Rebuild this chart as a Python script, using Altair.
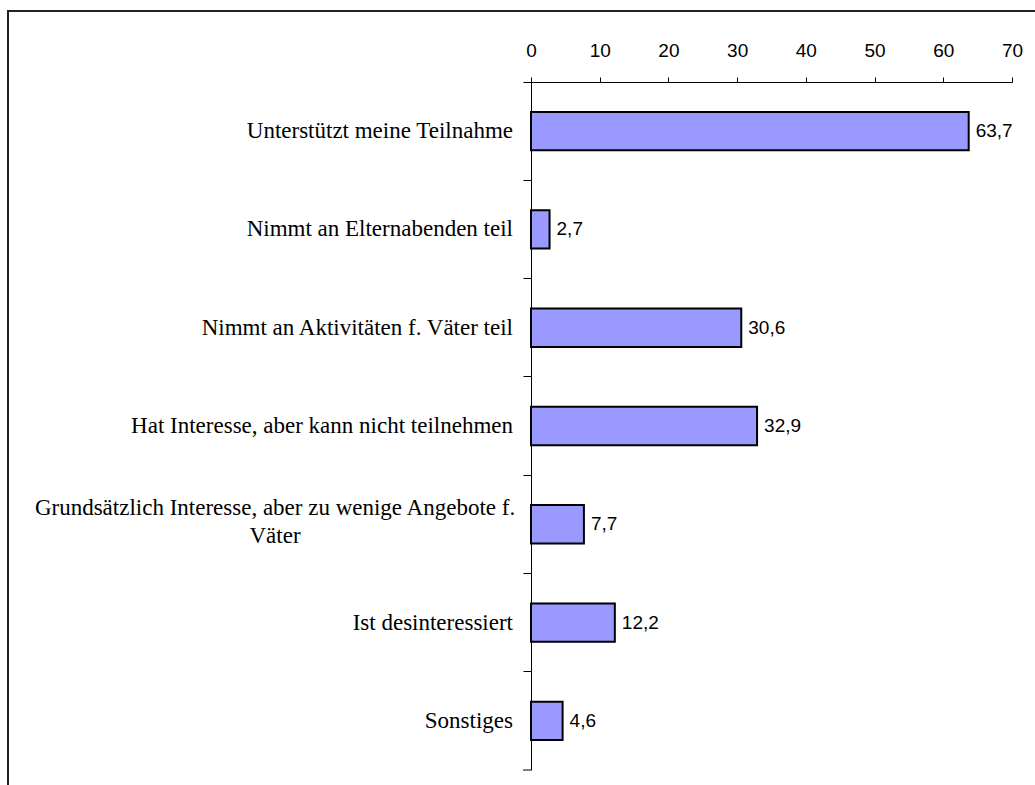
import altair as alt
import pandas as pd

categories = [
    "Unterstützt meine Teilnahme",
    "Nimmt an Elternabenden teil",
    "Nimmt an Aktivitäten f. Väter teil",
    "Hat Interesse, aber kann nicht teilnehmen",
    "Grundsätzlich Interesse, aber zu wenige Angebote f. Väter",
    "Ist desinteressiert",
    "Sonstiges",
]
display_labels = [
    "Unterstützt meine Teilnahme",
    "Nimmt an Elternabenden teil",
    "Nimmt an Aktivitäten f. Väter teil",
    "Hat Interesse, aber kann nicht teilnehmen",
    "Grundsätzlich Interesse, aber zu wenige Angebote f.\nVäter",
    "Ist desinteressiert",
    "Sonstiges",
]
values = [63.7, 2.7, 30.6, 32.9, 7.7, 12.2, 4.6]
x_ticks = [0, 10, 20, 30, 40, 50, 60, 70]

df = pd.DataFrame({
    "category": categories,
    "label": display_labels,
    "value": values,
    "multi": ["\n" in s for s in display_labels],
    "value_text": [f"{v:.1f}".replace(".", ",") for v in values],
})

W, H = 481, 688

y_enc = alt.Y(
    "category:N",
    sort=categories,
    scale=alt.Scale(paddingInner=0, paddingOuter=0),
    axis=alt.Axis(labels=False, title=None, bandPosition=0, tickSize=8,
                  domainColor="black", tickColor="black", grid=False),
)
x_scale = alt.Scale(domain=[0, 70], nice=False, zero=True)
x_axis = alt.Axis(orient="top", values=x_ticks, title=None, tickSize=5,
                  labelFont="Liberation Sans", labelFontSize=19, labelColor="black",
                  labelPadding=17, grid=False, domainColor="black", tickColor="black",
                  labelFlush=False)

base = alt.Chart(df)

bars = base.mark_bar(color="#9999FF", stroke="black", strokeWidth=2,
                     height=alt.RelativeBandSize(0.39)).encode(
    x=alt.X("value:Q", scale=x_scale, axis=x_axis),
    y=y_enc,
)

vals = base.mark_text(align="left", baseline="middle", dx=7,
                      font="Liberation Sans", fontSize=19, color="black").encode(
    x=alt.X("value:Q", scale=x_scale),
    y=y_enc,
    text="value_text:N",
)

cat_single = base.transform_filter("!datum.multi").mark_text(
    align="right", baseline="middle", font="Liberation Serif", fontSize=23, color="black"
).encode(y=y_enc, x=alt.value(-18), text="label:N")

cat_multi = base.transform_filter("datum.multi").mark_text(
    align="center", baseline="middle", font="Liberation Serif", fontSize=23, color="black",
    lineBreak="\n", lineHeight=28, dy=-16
).encode(y=y_enc, x=alt.value(-256), text="label:N")

one = alt.Chart(pd.DataFrame({"a": [0]}))
bottom_tick = one.mark_rule(color="black", strokeWidth=1).encode(
    x=alt.value(-8), x2=alt.value(0), y=alt.value(H))
frame_left = one.mark_rule(color="#222222", strokeWidth=2).encode(
    x=alt.value(-523), y=alt.value(-71), y2=alt.value(H + 40))
frame_top = one.mark_rule(color="#222222", strokeWidth=2).encode(
    x=alt.value(-524), x2=alt.value(W + 60), y=alt.value(-71))

chart = alt.layer(bars, vals, cat_single, cat_multi, bottom_tick, frame_left, frame_top).properties(
    width=W, height=H,
    background="white",
    autosize=alt.AutoSizeParams(type="none"),
    padding={"left": 531, "top": 82, "right": 23, "bottom": 15},
).configure_view(strokeWidth=0, stroke="transparent")

chart.save("out.html", embed_options={"renderer": "svg", "actions": False})
